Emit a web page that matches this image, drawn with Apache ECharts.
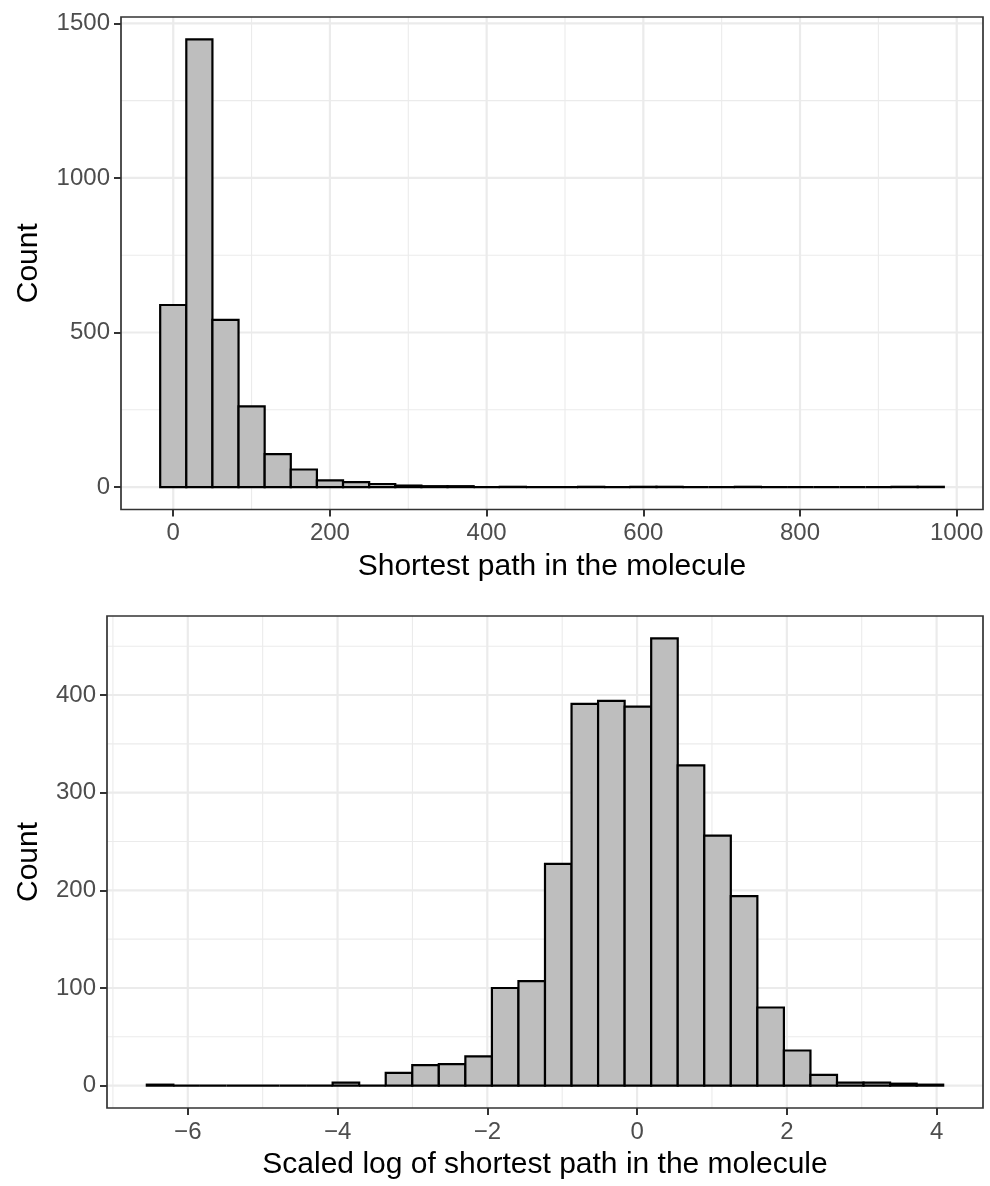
<!DOCTYPE html>
<html>
<head>
<meta charset="utf-8">
<script src="https://cdn.jsdelivr.net/npm/echarts@6/dist/echarts.min.js"></script>
<style>
  html, body { margin: 0; padding: 0; background: #ffffff; }
  #chart { width: 990px; height: 1186px; }
</style>
</head>
<body>
<div id="chart"></div>
<script>
// ---- Shortest path in the molecule: 30-bin histogram ----
const pathFirstBinCentre = 0;
const pathBinWidth = 33.34;
const pathCounts = [589, 1448, 541, 261, 107, 57, 22, 16, 10, 5,
                    3, 3, 0, 1, 0, 0, 1, 0, 1, 1,
                    0, 0, 1, 0, 0, 0, 0, 0, 1, 1];
const pathXTicks = [0, 200, 400, 600, 800, 1000];
const pathXMinor = [100, 300, 500, 700, 900];
const pathYTicks = [0, 500, 1000, 1500];
const pathYMinor = [250, 750, 1250];

// ---- Scaled log of shortest path: 30-bin histogram ----
const logFirstBinCentre = -6.37;
const logBinWidth = 0.3545;
const logCounts = [1, 0, 0, 0, 0, 0, 0, 3, 0, 13,
                   21, 22, 30, 100, 107, 227, 391, 394, 388, 458,
                   328, 256, 194, 80, 36, 11, 3, 3, 2, 1];
const logXTicks = [-6, -4, -2, 0, 2, 4];
const logXMinor = [-7, -5, -3, -1, 1, 3];
const logYTicks = [0, 100, 200, 300, 400];
const logYMinor = [50, 150, 250, 350, 450];

const FONT = '"Liberation Sans", Arial, Helvetica, sans-serif';
const TICK_COLOR = '#333333';
const LABEL_COLOR = '#4D4D4D';

// bins as [lower edge, upper edge, count]
function binsOf(firstCentre, width, counts) {
  return counts.map((c, i) => {
    const centre = firstCentre + i * width;
    return [centre - width / 2, centre + width / 2, c];
  });
}

// ggplot-like 5% expansion of the drawn range
function expanded(lo, hi) {
  const pad = (hi - lo) * 0.05;
  return [lo - pad, hi + pad];
}

function panelItems(xMajor, xMinor, yMajor, yMinor) {
  const items = [];
  xMinor.forEach(v => items.push([v, 0, 0]));
  yMinor.forEach(v => items.push([v, 1, 0]));
  xMajor.forEach(v => items.push([v, 0, 1]));
  yMajor.forEach(v => items.push([v, 1, 1]));
  items.push([0, 2, 0]); // frame
  return items;
}

function renderPanel(params, api) {
  const cs = params.coordSys;
  const kind = api.value(1);
  if (kind === 2) {
    return {
      type: 'rect',
      shape: { x: cs.x, y: cs.y, width: cs.width, height: cs.height },
      style: { fill: null, stroke: '#333333', lineWidth: 1.7 }
    };
  }
  const v = api.value(0);
  const lw = api.value(2) ? 2.2 : 1.1;
  if (kind === 0) {
    const x = api.coord([v, 0])[0];
    return {
      type: 'line',
      shape: { x1: x, y1: cs.y, x2: x, y2: cs.y + cs.height },
      style: { stroke: '#EBEBEB', lineWidth: lw }
    };
  }
  const y = api.coord([0, v])[1];
  return {
    type: 'line',
    shape: { x1: cs.x, y1: y, x2: cs.x + cs.width, y2: y },
    style: { stroke: '#EBEBEB', lineWidth: lw }
  };
}

function renderBar(params, api) {
  const p0 = api.coord([api.value(0), api.value(2)]);
  const p1 = api.coord([api.value(1), 0]);
  return {
    type: 'rect',
    shape: { x: p0[0], y: p0[1], width: p1[0] - p0[0], height: p1[1] - p0[1] },
    style: { fill: '#BEBEBE', stroke: '#000000', lineWidth: 2.2 }
  };
}

const minus = v => String(v).replace('-', '\u2212');

function xAxisFor(gridIndex, range, ticks, name) {
  return {
    type: 'value', gridIndex, min: range[0], max: range[1],
    name, nameLocation: 'middle', nameGap: 42,
    nameTextStyle: { fontSize: 30, color: '#000000', fontFamily: FONT },
    axisLine: { show: false, onZero: false },
    axisTick: { show: true, length: 7, customValues: ticks,
                lineStyle: { color: TICK_COLOR, width: 2 } },
    axisLabel: { customValues: ticks, fontSize: 24, color: LABEL_COLOR,
                 fontFamily: FONT, margin: 12, formatter: minus },
    splitLine: { show: false }
  };
}

function yAxisFor(gridIndex, range, ticks, gap) {
  return {
    type: 'value', gridIndex, min: range[0], max: range[1],
    name: 'Count', nameLocation: 'middle', nameGap: gap, nameRotate: 90,
    nameTextStyle: { fontSize: 30, color: '#000000', fontFamily: FONT },
    axisLine: { show: false, onZero: false },
    axisTick: { show: true, length: 7, customValues: ticks,
                lineStyle: { color: TICK_COLOR, width: 2 } },
    axisLabel: { customValues: ticks, fontSize: 24, color: LABEL_COLOR,
                 fontFamily: FONT, margin: 11, formatter: minus },
    splitLine: { show: false }
  };
}

const pathBins = binsOf(pathFirstBinCentre, pathBinWidth, pathCounts);
const logBins = binsOf(logFirstBinCentre, logBinWidth, logCounts);

const pathXRange = expanded(pathBins[0][0], pathBins[pathBins.length - 1][1]);
const pathYRange = expanded(0, Math.max(...pathCounts));
const logXRange = expanded(logBins[0][0], logBins[logBins.length - 1][1]);
const logYRange = expanded(0, Math.max(...logCounts));

const chart = echarts.init(document.getElementById('chart'), null, { renderer: 'canvas' });
chart.setOption({
  backgroundColor: '#ffffff',
  animation: false,
  grid: [
    { left: 121, top: 17, width: 862, height: 492.5, show: false },
    { left: 107, top: 616, width: 876, height: 492, show: false }
  ],
  xAxis: [
    xAxisFor(0, pathXRange, pathXTicks, 'Shortest path in the molecule'),
    xAxisFor(1, logXRange, logXTicks, 'Scaled log of shortest path in the molecule')
  ],
  yAxis: [
    yAxisFor(0, pathYRange, pathYTicks, 77),
    yAxisFor(1, logYRange, logYTicks, 63)
  ],
  series: [
    { type: 'custom', xAxisIndex: 0, yAxisIndex: 0, z: 1, silent: true,
      data: panelItems(pathXTicks, pathXMinor, pathYTicks, pathYMinor),
      renderItem: renderPanel },
    { type: 'custom', xAxisIndex: 0, yAxisIndex: 0, z: 3,
      data: pathBins, encode: { x: [0, 1], y: 2 }, renderItem: renderBar },
    { type: 'custom', xAxisIndex: 1, yAxisIndex: 1, z: 1, silent: true,
      data: panelItems(logXTicks, logXMinor, logYTicks, logYMinor),
      renderItem: renderPanel },
    { type: 'custom', xAxisIndex: 1, yAxisIndex: 1, z: 3,
      data: logBins, encode: { x: [0, 1], y: 2 }, renderItem: renderBar }
  ]
});
</script>
</body>
</html>
